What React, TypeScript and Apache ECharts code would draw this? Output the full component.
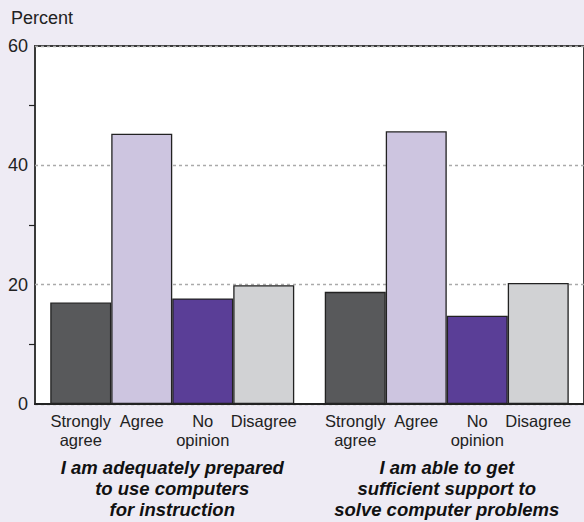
import React, { useEffect, useRef } from "react";
import * as echarts from "echarts";

const questions = [
  "I am adequately prepared\nto use computers\nfor instruction",
  "I am able to get\nsufficient support to\nsolve computer problems",
];
const responses = ["Strongly\nagree", "Agree", "No\nopinion", "Disagree"];
const stronglyAgree = [17.0, 18.8];
const agree = [45.3, 45.7];
const noOpinion = [17.7, 14.8];
const disagree = [19.9, 20.3];
const seriesValues = [stronglyAgree, agree, noOpinion, disagree];
const colors = ["#58595b", "#cdc5e0", "#5a3e97", "#d1d2d4"];
const yTicks = [0, 20, 40, 60];

export default function App() {
  const ref = useRef<HTMLDivElement>(null);
  useEffect(() => {
    const chart = echarts.init(ref.current!, undefined, { renderer: "svg" });
    const font = "'Liberation Sans', Arial, Helvetica, sans-serif";
    const yAxisBase = {
      type: "value" as const,
      min: yTicks[0],
      max: yTicks[yTicks.length - 1],
      interval: 20,
      axisLine: { show: false },
      axisTick: { show: false },
      minorTick: { show: true, splitNumber: 2, length: 6, lineStyle: { color: "#222", width: 1.2 } },
      minorSplitLine: { show: false },
    };
    chart.setOption({
      animation: false,
      backgroundColor: "#eeebf4",
      title: {
        text: "Percent",
        left: 6,
        top: 4,
        textStyle: { fontFamily: font, fontSize: 18, fontWeight: "normal", color: "#222" },
      },
      grid: {
        left: 35,
        right: -1,
        top: 46,
        bottom: 118,
        show: true,
        backgroundColor: "#ffffff",
        borderColor: "#3a3a3a",
        borderWidth: 2,
      },
      xAxis: {
        type: "category",
        data: questions,
        axisLine: { show: true, lineStyle: { color: "#222", width: 2 } },
        axisTick: { show: false },
        axisLabel: {
          margin: 53,
          fontFamily: font,
          fontSize: 18.5,
          fontWeight: "bold",
          fontStyle: "italic",
          color: "#111",
          lineHeight: 21,
          interval: 0,
        },
      },
      yAxis: [
        {
          ...yAxisBase,
          position: "left",
          axisLabel: { fontFamily: font, fontSize: 18, color: "#222", margin: 7 },
          splitLine: { show: true, lineStyle: { color: "#aaaaaa", type: [3, 3], width: 1.3 } },
        },
        {
          ...yAxisBase,
          position: "right",
          axisLabel: { show: false },
          splitLine: { show: false },
        },
      ],
      series: responses.map((name, i) => ({
        type: "bar",
        name,
        data: seriesValues[i],
        barWidth: 61,
        barGap: "0%",
        itemStyle: { color: colors[i], borderColor: "#222", borderWidth: 1.3 },
        label: {
          show: true,
          position: ["50%", "100%"],
          offset: [0, 8],
          align: "center",
          verticalAlign: "top",
          formatter: name,
          fontFamily: font,
          fontSize: 16.5,
          lineHeight: 18.5,
          color: "#222",
        },
      })),
    });
    return () => chart.dispose();
  }, []);
  return (
    <div
      ref={ref}
      style={{ position: "fixed", left: 0, top: 0, width: 584, height: 522 }}
    />
  );
}
